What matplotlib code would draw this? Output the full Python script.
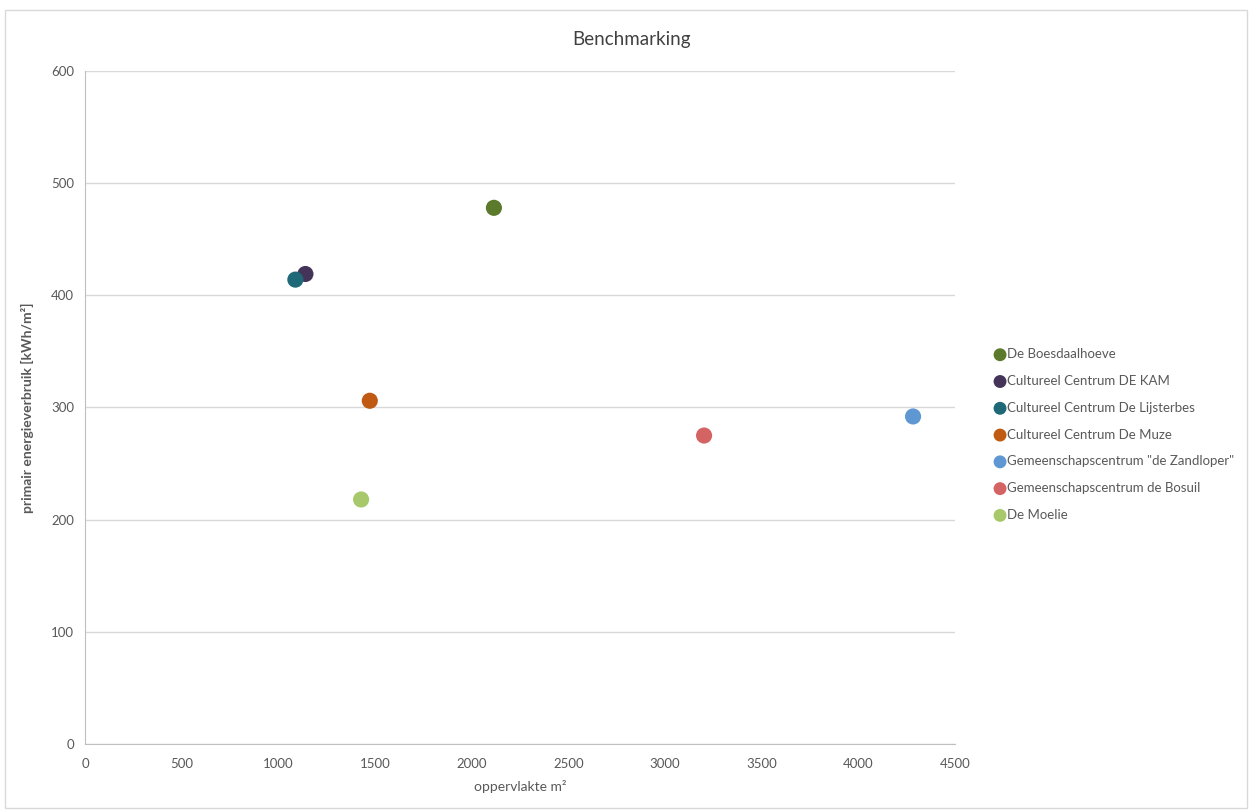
import matplotlib.pyplot as plt
from matplotlib.patches import Rectangle

plt.rcParams['font.family'] = ['Lato', 'DejaVu Sans']

# gebouwen met oppervlakte (m2) en primair energieverbruik (kWh/m2)
namen = ['De Boesdaalhoeve', 'Cultureel Centrum DE KAM', 'Cultureel Centrum De Lijsterbes',
         'Cultureel Centrum De Muze', 'Gemeenschapscentrum "de Zandloper"',
         'Gemeenschapscentrum de Bosuil', 'De Moelie']
oppervlakte = [2115, 1140, 1088, 1473, 4283, 3202, 1428]
verbruik = [478, 419, 414, 306, 292, 275, 218]
kleuren = ['#5c7a2c', '#45345a', '#1f6878', '#c05a12', '#5e97d2', '#d46464', '#a8c86c']

fig = plt.figure(figsize=(12.52, 8.11), dpi=100)
fig.patches.append(Rectangle((0.004, 0.004), 0.992, 0.984, transform=fig.transFigure,
                             fill=False, edgecolor='#d9d9d9', linewidth=1))
ax = fig.add_axes([0.0679, 0.0826, 0.6949, 0.8299])

for n, x, y, c in zip(namen, oppervlakte, verbruik, kleuren):
    ax.scatter(x, y, s=135, color=c, label=n, zorder=3, edgecolors='none')

ax.set_xlim(0, 4500)
ax.set_ylim(0, 600)
ax.set_xticks(range(0, 4501, 500))
ax.set_yticks(range(0, 601, 100))
ax.grid(axis='y', color='#d9d9d9', linewidth=1)
ax.set_axisbelow(True)
for s in ['top', 'right']:
    ax.spines[s].set_visible(False)
for s in ['left', 'bottom']:
    ax.spines[s].set_color('#bfbfbf')
ax.tick_params(length=0, labelsize=9.5, colors='#595959')
ax.tick_params(axis='x', pad=10)
ax.tick_params(axis='y', pad=8)

fig.suptitle('Benchmarking', x=0.504, y=0.962, fontsize=13.5, color='#404040')
ax.set_xlabel('oppervlakte m²', fontsize=10, color='#595959', labelpad=7)
ax.set_ylabel('primair energieverbruik [kWh/m²]', fontsize=10, color='#595959',
              fontweight='bold', labelpad=12)

leg = fig.legend(loc='center left', bbox_to_anchor=(0.784, 0.4642), frameon=False,
                 fontsize=9.5, labelspacing=1.12, handletextpad=0.0,
                 markerscale=0.8, handlelength=1.0)
for t in leg.get_texts():
    t.set_color('#595959')

fig.savefig('out.png', dpi=100)
